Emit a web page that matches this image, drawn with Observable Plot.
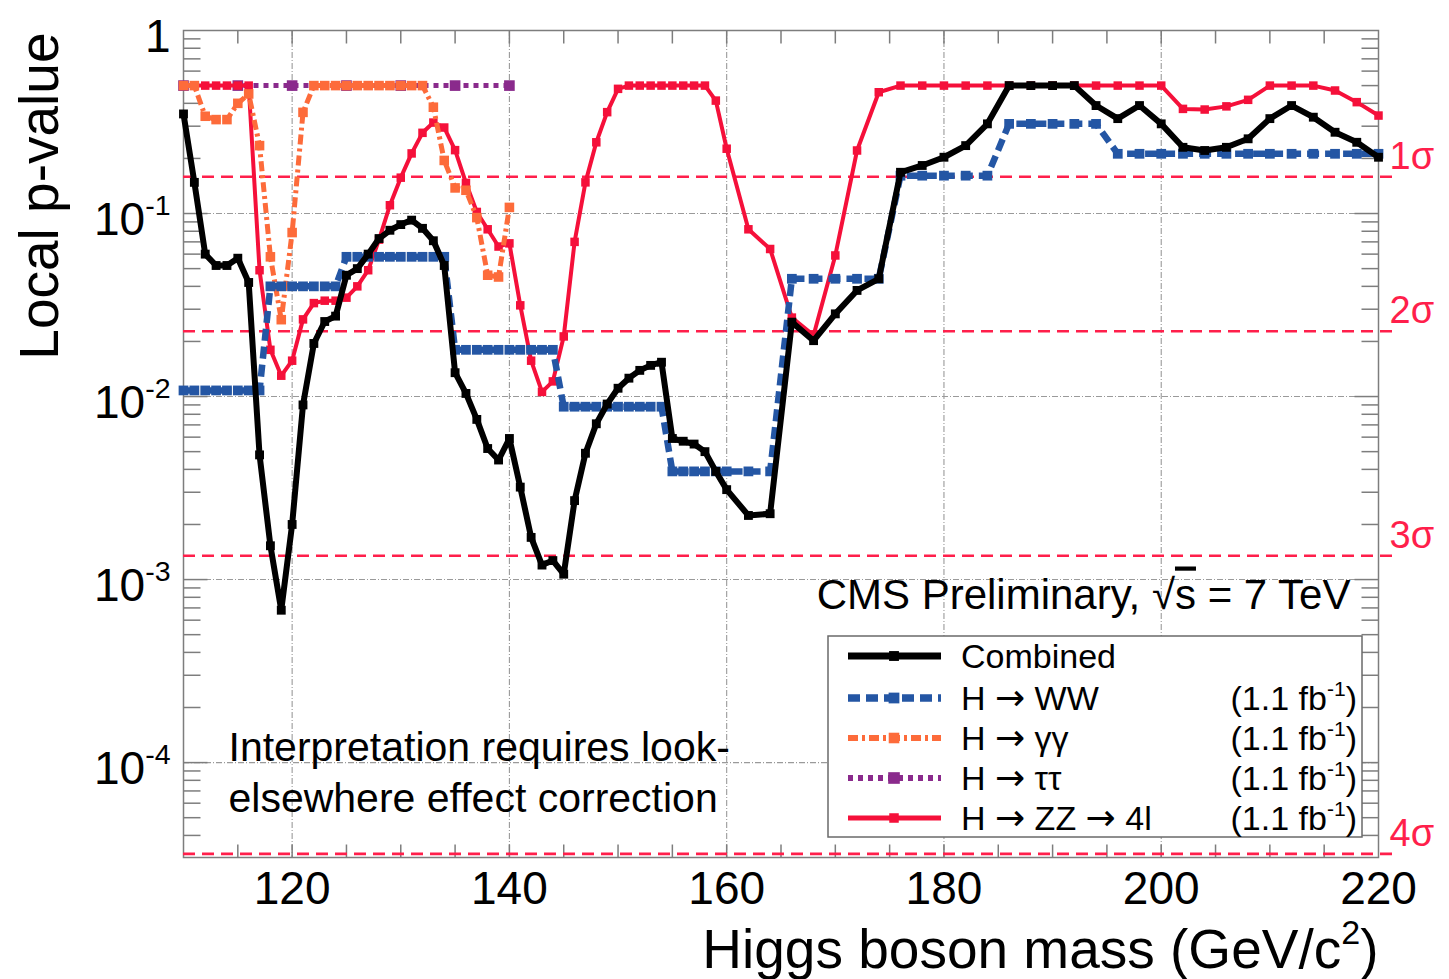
<!DOCTYPE html>
<html><head><meta charset="utf-8"><title>Local p-value</title>
<script src="https://cdn.jsdelivr.net/npm/d3@7"></script>
<script src="https://cdn.jsdelivr.net/npm/@observablehq/plot@0.6"></script>
<style>html,body{margin:0;padding:0;background:#fff;overflow:hidden}#chart svg{display:block}</style>
</head><body><div id="chart"></div><script>
// ---------- data ----------
const massGrid = [110,111,112,113,114,115,116,117,118,119,120,121,122,123,124,125,126,127,128,129,
  130,131,132,133,134,135,136,137,138,139,140,141,142,143,144,145,146,147,148,149,
  150,151,152,153,154,155,156,157,158,159,160,162,164,166,168,170,172,174,176,178,180,
  182,184,186,188,190,192,194,196,198,200,202,204,206,208,210,212,214,216,218,220];
const combinedP = [0.35,0.148,0.060,0.052,0.052,0.057,0.042,0.0048,0.00153,0.00068,
  0.0020,0.0090,0.0195,0.0257,0.0275,0.046,0.050,0.060,0.073,0.081,
  0.087,0.092,0.083,0.071,0.052,0.0135,0.0104,0.0075,0.0052,0.0045,
  0.0059,0.0032,0.0017,0.0012,0.00127,0.00107,0.0027,0.0049,0.0071,0.0091,
  0.0111,0.0126,0.0139,0.0148,0.0154,0.0059,0.0057,0.0055,0.0050,0.0039,
  0.0031,
  0.00224,0.00229,0.0255,0.0202,0.0283,0.038,0.044,0.168,0.183,0.203,
  0.235,0.309,0.5,0.5,0.5,0.5,0.389,0.33,0.389,0.309,
  0.23,0.221,0.23,0.256,0.33,0.389,0.336,0.278,0.245,0.203];
const wwP = [0.0108,0.0108,0.0108,0.0108,0.0108,0.0108,0.0108,0.0108,
  0.040,0.040,0.040,0.040,0.040,0.040,0.040,
  0.058,0.058,0.058,0.058,0.058,0.058,0.058,0.058,0.058,0.058,
  0.018,0.018,0.018,0.018,0.018,0.018,0.018,0.018,0.018,0.018,
  0.0088,0.0088,0.0088,0.0088,0.0088,0.0088,0.0088,0.0088,0.0088,0.0088,
  0.0039,0.0039,0.0039,0.0039,0.0039,0.0039,
  0.0039,0.0039,
  0.044,0.044,0.044,0.044,0.044,
  0.161,0.161,0.161,0.161,0.161,
  0.309,0.309,0.309,0.309,0.309,
  0.212,0.212,0.212,0.212,0.212,0.212,0.212,0.212,0.212,0.212,0.212,0.212,0.212];
const zzP = [0.5,0.5,0.5,0.5,0.5,0.5,0.5,
  0.049,0.018,0.013,0.0157,0.0264,0.0324,0.0334,0.0334,0.0347,0.040,0.049,0.072,0.111,
  0.157,0.213,0.276,0.314,0.295,0.222,0.147,0.102,0.082,0.066,
  0.0687,0.0315,0.0157,0.0106,0.0121,0.0213,0.070,0.148,0.245,0.358,
  0.48,0.5,0.5,0.5,0.5,0.5,0.5,0.5,0.5,0.414,
  0.226,
  0.082,0.064,0.027,0.0216,0.059,0.221,0.46,0.5,0.5,0.5,
  0.5,0.5,0.5,0.5,0.5,0.5,0.5,0.5,0.5,0.5,
  0.373,0.37,0.385,0.418,0.5,0.5,0.5,0.47,0.406,0.343];
const ggMass = [110,111,112,113,114,115,116,117,118,119,120,121,122,123,124,125,126,127,128,129,
  130,131,132,133,134,135,136,137,138,139,140];
const ggP = [0.5,0.5,0.34,0.326,0.326,0.40,0.45,0.235,0.058,0.0263,
  0.0787,0.357,0.5,0.5,0.5,0.5,0.5,0.5,0.5,0.5,
  0.5,0.5,0.5,0.381,0.195,0.138,0.134,0.095,0.046,0.045,
  0.108];
const ttMass = [110,115,120,125,130,135,140];
const ttP = [0.5,0.5,0.5,0.5,0.5,0.5,0.5];

const sigmaP = [0.1587, 0.02275, 0.00135, 3.17e-5];
const sigmaLabels = ["1σ","2σ","3σ","4σ"];
const xTickLabels = [120,140,160,180,200,220];
const xMinorTicks = [115,120,125,130,135,140,145,150,155,160,165,170,175,180,185,190,195,200,205,210,215];
const xGrid = [120,140,160,180,200];
const yLabelTicks = [1,0.1,0.01,0.001,0.0001];
const yLabelText = ["1","10^{-1}","10^{-2}","10^{-3}","10^{-4}"];
const yGrid = [0.1,0.01,0.001,0.0001];
const legendLabels = ["Combined","H → WW","H → γγ","H → ττ","H → ZZ → 4l"];
const legendLumi = ["","(1.1 fb^{-1})","(1.1 fb^{-1})","(1.1 fb^{-1})","(1.1 fb^{-1})"];
const xTitle = "Higgs boson mass (GeV/c^{2})";
const yTitle = "Local p-value";
const cmsText = "CMS Preliminary, √~{s} = 7 TeV";
const noteLines = ["Interpretation requires look-","elsewhere effect correction"];

// ---------- build ----------
const rows = (mass, p) => mass.map((m, i) => ({m, p: p[i]}));
const combined = rows(massGrid, combinedP);
const ww = rows(massGrid, wwP);
const zz = rows(massGrid, zzP);
const gg = rows(ggMass, ggP);
const tt = rows(ttMass, ttP);

const yMinor = [];
for (let e = -5; e <= -1; e++) for (let k = 2; k <= 9; k++) {
  const v = k * Math.pow(10, e);
  if (v > 3.03e-5 && v < 1) yMinor.push(v);
}

const C = {comb:"#000000", ww:"#2456a4", gg:"#fd6b3a", tt:"#8a2a8c", zz:"#f5103a",
           sig:"#ff1f4b", grid:"#9a9a9a", frame:"#7d7d7d"};
const FONT = "'Liberation Sans', Arial, Helvetica, sans-serif";

const tickSym = (dx, dy) => ({draw(ctx) { ctx.moveTo(0, 0); ctx.lineTo(dx, dy); }});
const TL = 17;

const styles = [
  {key:"tt", data: tt, stroke: C.tt, w: 5, dash: "5,5", r: 6},
  {key:"zz", data: zz, stroke: C.zz, w: 4, dash: null, r: 4.8},
  {key:"gg", data: gg, stroke: C.gg, w: 5, dash: "10,4,3,4", r: 5.4},
  {key:"ww", data: ww, stroke: C.ww, w: 6.5, dash: "12,6", r: 5.5},
  {key:"comb", data: combined, stroke: C.comb, w: 6, dash: null, r: 5}
];

const seriesMarks = styles.flatMap(s => [
  Plot.line(s.data, {x: "m", y: "p", stroke: s.stroke, strokeWidth: s.w,
    strokeDasharray: s.dash || undefined, strokeLinejoin: "miter", strokeLinecap: "butt"}),
  Plot.dot(s.data, {x: "m", y: "p", symbol: "square", r: s.r, fill: s.stroke, stroke: "none"})
]);

const plot = Plot.plot({
  width: 1449, height: 979,
  marginLeft: 183, marginRight: 71, marginTop: 30, marginBottom: 122,
  x: {domain: [110, 220], axis: null},
  y: {type: "log", domain: [3.03e-5, 1], axis: null},
  style: {fontFamily: FONT, fontSize: "16px", color: "black", background: "white", overflow: "visible"},
  marks: [
    Plot.ruleX(xGrid, {x: d => d, stroke: C.grid, strokeWidth: 1.1, strokeDasharray: "6,2,1,2"}),
    Plot.ruleY(yGrid, {y: d => d, stroke: C.grid, strokeWidth: 1.1, strokeDasharray: "6,2,1,2"}),
    Plot.dotX(xMinorTicks, {x: d => d, frameAnchor: "bottom", symbol: tickSym(0, -13), fill: "none", stroke: C.frame, strokeWidth: 1.5}),
    Plot.dotX(xMinorTicks, {x: d => d, frameAnchor: "top", symbol: tickSym(0, 13), fill: "none", stroke: C.frame, strokeWidth: 1.5}),
    Plot.dotY(yMinor, {y: d => d, frameAnchor: "left", symbol: tickSym(TL, 0), fill: "none", stroke: C.frame, strokeWidth: 1.5}),
    Plot.dotY(yMinor, {y: d => d, frameAnchor: "right", symbol: tickSym(-TL, 0), fill: "none", stroke: C.frame, strokeWidth: 1.5}),
    Plot.dotY(yGrid, {y: d => d, frameAnchor: "left", symbol: tickSym(24, 0), fill: "none", stroke: C.frame, strokeWidth: 1.5}),
    Plot.dotY(yGrid, {y: d => d, frameAnchor: "right", symbol: tickSym(-24, 0), fill: "none", stroke: C.frame, strokeWidth: 1.5}),
    Plot.frame({stroke: C.frame, strokeWidth: 1.5}),
    Plot.ruleY(sigmaP, {y: d => d, stroke: C.sig, strokeWidth: 2.6, strokeDasharray: "12,7", insetRight: -16}),
    ...seriesMarks,
    Plot.text(sigmaP, {y: d => d, text: (d, i) => sigmaLabels[i], frameAnchor: "right", textAnchor: "start",
      lineAnchor: "bottom", dx: 11, dy: -8, fill: C.sig, fontSize: 38}),
    Plot.text(xTickLabels, {x: d => d, text: d => String(d), frameAnchor: "bottom", lineAnchor: "bottom", dy: 46, fontSize: 46}),
    Plot.text(yLabelTicks, {y: d => d, text: (d, i) => yLabelText[i], frameAnchor: "left", textAnchor: "end",
      lineAnchor: "bottom", dx: -13, dy: 21, fontSize: 46}),
    Plot.text([xTitle], {frameAnchor: "bottom-right", textAnchor: "end", lineAnchor: "bottom", dy: 110, fontSize: 55}),
    Plot.text([yTitle], {frameAnchor: "top-left", textAnchor: "end", lineAnchor: "bottom", rotate: -90, dx: -126, dy: 2, fontSize: 55}),
    Plot.text([cmsText], {frameAnchor: "top-right", textAnchor: "end", lineAnchor: "bottom", dx: -28, dy: 578, fontSize: 42}),
    Plot.text([noteLines[0]], {frameAnchor: "top-left", textAnchor: "start", lineAnchor: "bottom", dx: 45, dy: 730, fontSize: 41}),
    Plot.text([noteLines[1]], {frameAnchor: "top-left", textAnchor: "start", lineAnchor: "bottom", dx: 45, dy: 781, fontSize: 41})
  ]
});

document.getElementById("chart").appendChild(plot);

// ---------- legend (inside plot area, lower right) ----------
const svg = d3.select(plot);
const lg = svg.append("g").attr("transform", "translate(828,636)")
  .attr("font-family", FONT).attr("text-anchor", "start");
lg.append("rect").attr("width", 534).attr("height", 201).attr("fill", "white")
  .attr("stroke", "#6a6a6a").attr("stroke-width", 1.5);
const legendStyle = [styles[4], styles[3], styles[2], styles[0], styles[1]];
const rowY = [20, 62, 102, 142, 182];
legendLabels.forEach((lab, i) => {
  const s = legendStyle[i], cy = rowY[i];
  lg.append("line").attr("x1", 20).attr("x2", 113).attr("y1", cy).attr("y2", cy)
    .attr("stroke", s.stroke).attr("stroke-width", s.w + 1)
    .attr("stroke-dasharray", s.dash ? s.dash : null);
  const side = s.r * Math.sqrt(Math.PI) + 1;
  lg.append("rect").attr("x", 66 - side / 2).attr("y", cy - side / 2).attr("width", side).attr("height", side)
    .attr("fill", s.stroke);
  const t = lg.append("text").attr("x", 133).attr("y", cy + 12).attr("font-size", 34).attr("text-anchor", "start");
  lab.split(/(→)/).forEach(part => {
    if (!part) return;
    const ts = t.append("tspan").text(part);
    if (part === "→") ts.attr("font-family", "'DejaVu Sans', sans-serif").attr("font-size", 36);
  });
  if (legendLumi[i]) lg.append("text").attr("x", 529).attr("y", cy + 12).attr("font-size", 34)
    .attr("text-anchor", "end").text(legendLumi[i]);
});

// ---------- rich text: ^{sup} and ~{overline} ----------
function richify(root) {
  const NS = "http://www.w3.org/2000/svg";
  root.querySelectorAll("text").forEach(t => {
    if (t.querySelector("tspan")) return;
    const s = t.textContent;
    if (!/[\^~]\{/.test(s)) return;
    const fs = parseFloat(getComputedStyle(t).fontSize) || 16;
    while (t.firstChild) t.removeChild(t.firstChild);
    const push = (str, o = {}) => {
      if (!str) return;
      const ts = document.createElementNS(NS, "tspan");
      ts.textContent = str;
      if (o.dy) ts.setAttribute("dy", o.dy);
      if (o.fs) ts.setAttribute("font-size", o.fs);
      if (o.over) ts.setAttribute("style", "text-decoration: overline");
      t.appendChild(ts);
    };
    const re = /([\^~])\{([^}]*)\}/g;
    let last = 0, m, raised = 0;
    while ((m = re.exec(s))) {
      const before = s.slice(last, m.index);
      if (before) { push(before, raised ? {dy: raised} : {}); raised = 0; }
      if (m[1] === "^") { const r = 0.42 * fs; push(m[2], {dy: -r, fs: 0.62 * fs}); raised = r; }
      else push(m[2], {over: true});
      last = re.lastIndex;
    }
    const rest = s.slice(last);
    if (rest) push(rest, raised ? {dy: raised} : {});
  });
}
richify(plot);
</script></body></html>
